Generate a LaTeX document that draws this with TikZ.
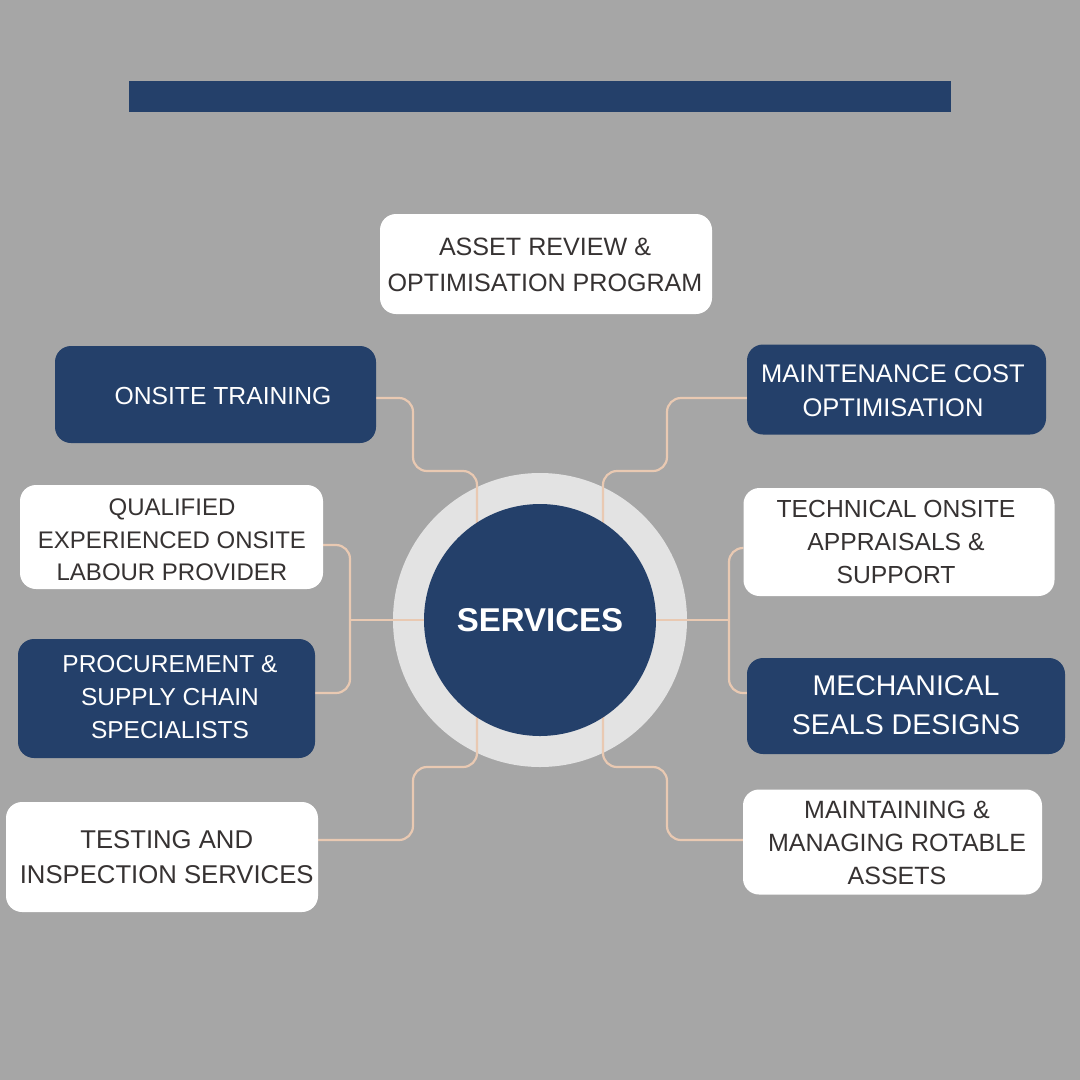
\documentclass[tikz,border=0pt]{standalone}
\usepackage{fontspec}
\setmainfont{Liberation Sans}
\usetikzlibrary{calc}
\definecolor{bgc}{HTML}{A6A6A6}
\definecolor{navy}{HTML}{24406A}
\definecolor{ring}{HTML}{E3E3E3}
\definecolor{peach}{HTML}{E9C9B2}
\definecolor{ink}{HTML}{363232}
\pgfdeclarelayer{back}
\pgfdeclarelayer{mid}
\pgfsetlayers{back,mid,main}
\tikzset{
  box/.style={rounded corners=16pt, inner sep=0pt},
  whitebox/.style={box, fill=white},
  navybox/.style={box, fill=navy},
  txt/.style 2 args={inner sep=0pt, align=center, font=\fontsize{#1}{#2}\selectfont},
  dark/.style={text=ink},
  light/.style={text=white},
  link/.style={draw=peach, line width=2.2pt, rounded corners=14pt},
  spoke/.style={draw=peach, line width=2.2pt},
}
\begin{document}
\begin{tikzpicture}[x=1pt,y=-1pt]
\useasboundingbox (0,0) rectangle (1080,1080);
\begin{pgfonlayer}{back}
\fill[bgc] (0,0) rectangle (1080,1080);
\fill[navy] (129,81) rectangle (951,112);
\fill[ring] (540,620) circle[radius=147];
\end{pgfonlayer}

\node[circle, fill=navy, minimum size=232pt, inner sep=0pt, text=white,
  font=\fontsize{33}{38}\selectfont\bfseries] (svc) at (540,620) {SERVICES};

% boxes
\node[whitebox, minimum width=332pt, minimum height=100pt] (asset) at (546,264) {};
\node[navybox, minimum width=321pt, minimum height=97pt] (train) at (215.5,394.5) {};
\node[navybox, minimum width=299pt, minimum height=90pt] (cost) at (896.5,389.5) {};
\node[whitebox, minimum width=303pt, minimum height=104pt] (qual) at (171.5,537) {};
\node[whitebox, minimum width=311pt, minimum height=108pt] (tech) at (899,542) {};
\node[navybox, minimum width=297pt, minimum height=119pt] (proc) at (166.5,698.5) {};
\node[navybox, minimum width=318pt, minimum height=96pt] (mech) at (906,706) {};
\node[whitebox, minimum width=312pt, minimum height=110pt] (test) at (162,857) {};
\node[whitebox, minimum width=299pt, minimum height=105pt] (rot) at (892.5,842) {};

% texts
\node[txt={25.1}{36}, dark] (asset-t) at (545,265) {ASSET REVIEW \&\\OPTIMISATION PROGRAM};
\node[txt={24.7}{33}, light] (train-t) at (223,396) {ONSITE TRAINING};
\node[txt={25.5}{34}, light] (cost-t) at (893,390.5) {MAINTENANCE COST\\OPTIMISATION};
\node[txt={24}{32.5}, dark] (qual-t) at (172,540) {QUALIFIED\\EXPERIENCED ONSITE\\LABOUR PROVIDER};
\node[txt={24.7}{33}, dark] (tech-t) at (896,542.3) {TECHNICAL ONSITE\\APPRAISALS \&\\SUPPORT};
\node[txt={24.5}{33}, light] (proc-t) at (170,697.5) {PROCUREMENT \&\\SUPPLY CHAIN\\SPECIALISTS};
\node[txt={28.5}{39}, light] (mech-t) at (906,705.5) {MECHANICAL\\SEALS DESIGNS};
\node[txt={25.7}{35}, dark] (test-t) at (166.7,857) {TESTING AND\\INSPECTION SERVICES};
\node[txt={25}{33}, dark] (rot-t) at (897,843.3) {MAINTAINING \&\\MANAGING ROTABLE\\ASSETS};

\coordinate (ctl) at (477,560);
\coordinate (ctr) at (603,560);
\coordinate (cbl) at (477,680);
\coordinate (cbr) at (603,680);
\coordinate (jl) at (350,620);
\coordinate (jr) at (729,620);

\begin{pgfonlayer}{mid}
\draw[link] (train.east |- 0,398) -- (413,398) -- (413,471) -- (477,471) -- (ctl);
\draw[link] (cost.west |- 0,398) -- (667,398) -- (667,471) -- (603,471) -- (ctr);
\draw[link] (qual.east |- 0,545) -- (350,545) -- (350,693) -- (proc.east |- 0,693);
\draw[spoke] (jl) -- (svc.west);
\draw[link] (tech.west |- 0,548) -- (729,548) -- (729,693) -- (mech.west |- 0,693);
\draw[spoke] (jr) -- (svc.east);
\draw[link] (cbl) -- (477,767) -- (413,767) -- (413,840) -- (test.east |- 0,840);
\draw[link] (cbr) -- (603,767) -- (667,767) -- (667,840) -- (rot.west |- 0,840);
\end{pgfonlayer}
\end{tikzpicture}
\end{document}
